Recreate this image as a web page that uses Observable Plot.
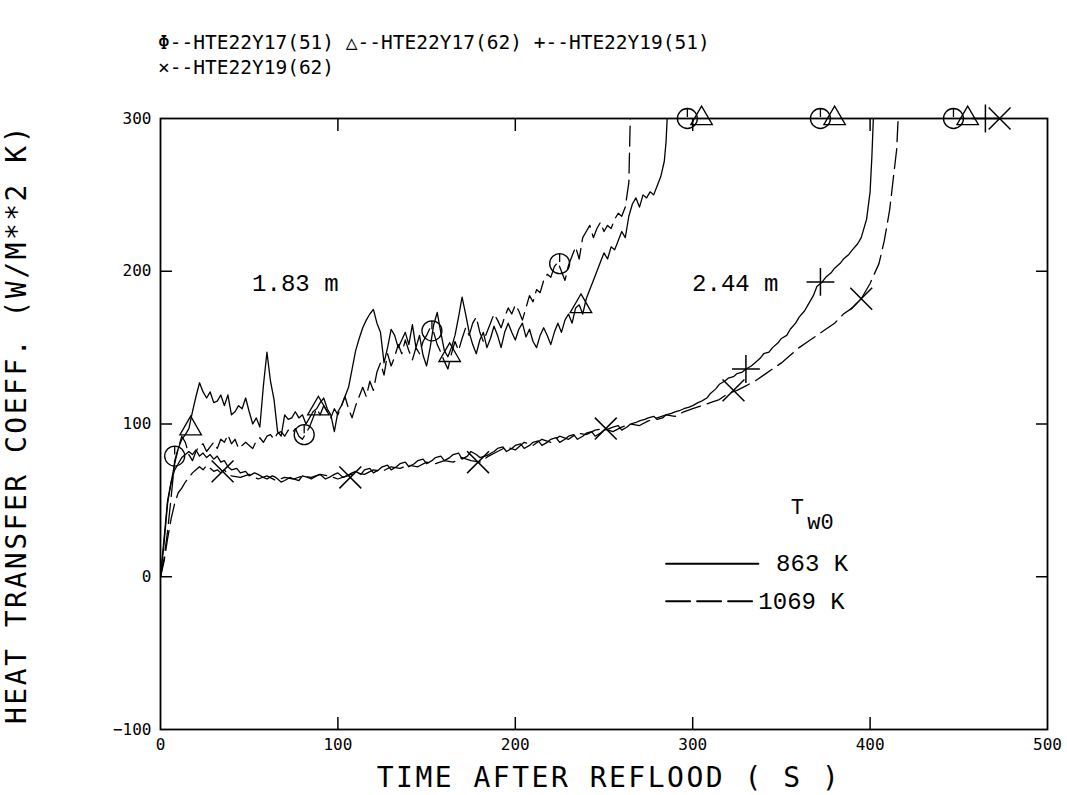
<!DOCTYPE html>
<html><head><meta charset="utf-8">
<script src="https://cdn.jsdelivr.net/npm/d3@7"></script>
<script src="https://cdn.jsdelivr.net/npm/@observablehq/plot@0.6"></script>
<style>
body{margin:0;background:#fff;}
#legend{position:relative;height:95px;width:1067px;font-family:"DejaVu Sans Mono",monospace;font-size:19.5px;color:#000;}
#legend div{position:absolute;left:158px;white-space:pre;line-height:1;}
</style></head><body>
<div id="legend"></div>
<div id="chart"></div>
<script>
// ---------- data ----------
const seriesNames = ["HTE22Y17(51)", "HTE22Y17(62)", "HTE22Y19(51)", "HTE22Y19(62)"];
const seriesGlyphs = ["\u03A6", "\u25B3", "+", "\u00D7"];
const xTicks = [0, 100, 200, 300, 400, 500];
const yTicks = [-100, 0, 100, 200, 300];
const xTitle = "TIME AFTER REFLOOD ( S )";
const yTitle = "HEAT TRANSFER COEFF. (W/M**2 K)";

// HTE22Y17(51): 1.83 m, dashed (1069 K)
const y17_51 = [[0,0],[2,12],[4,30],[6,52],[8,76],[10,84],[12,92],[14,88],[16,80],[18,76],[20,82],[22,86],[24,87],[26,82],[28,85],[30,88],[32,84],[34,90],[36,88],[38,93],[40,87],[42,90],[44,84],[46,86],[48,88],[50,86],[52,84],[54,89],[56,91],[58,88],[60,92],[62,93],[64,90],[66,94],[68,95],[70,92],[72,96],[74,94],[76,97],[78,92],[80,90],[82,94],[84,98],[86,104],[88,110],[90,106],[92,112],[94,108],[96,104],[98,110],[100,106],[102,112],[104,118],[106,110],[108,104],[110,112],[112,118],[114,124],[116,118],[118,128],[120,122],[122,134],[124,140],[126,132],[128,146],[130,138],[132,144],[134,152],[136,146],[138,155],[140,148],[142,142],[144,150],[146,146],[148,154],[150,158],[152,163],[154,160],[156,152],[158,147],[160,141],[162,136],[164,146],[166,154],[168,148],[170,156],[172,163],[174,158],[176,166],[178,170],[180,160],[182,154],[184,160],[186,166],[188,172],[190,168],[192,163],[194,170],[196,176],[198,172],[200,178],[202,174],[204,168],[206,176],[208,184],[210,180],[212,188],[214,186],[216,194],[218,198],[220,196],[222,203],[224,206],[226,200],[228,194],[230,204],[232,210],[234,216],[236,208],[238,222],[240,226],[242,230],[244,222],[246,228],[248,232],[250,226],[252,230],[254,228],[256,234],[258,238],[260,236],[262,242],[264,258],[265,310]];

// HTE22Y17(62): 1.83 m, solid (863 K)
const y17_62 = [[0,0],[2,22],[4,48],[6,62],[8,74],[10,84],[12,90],[14,93],[16,97],[18,108],[20,118],[22,127],[24,121],[26,117],[28,121],[30,114],[32,115],[34,119],[36,112],[38,119],[40,106],[42,108],[44,112],[46,110],[48,117],[50,108],[52,100],[54,104],[56,98],[58,125],[60,147],[62,128],[64,116],[66,95],[68,92],[70,106],[72,103],[74,104],[76,108],[78,104],[80,106],[82,100],[84,104],[86,108],[88,110],[90,114],[92,117],[94,110],[96,106],[98,95],[100,108],[102,112],[104,118],[106,124],[108,136],[110,148],[112,156],[114,163],[116,168],[118,172],[120,175],[122,166],[124,160],[126,140],[128,150],[130,162],[132,158],[134,150],[136,155],[138,160],[140,152],[142,165],[144,150],[146,158],[148,145],[150,138],[152,150],[154,165],[156,173],[158,160],[160,148],[162,144],[164,150],[166,158],[168,170],[170,183],[172,172],[174,160],[176,152],[178,146],[180,155],[182,160],[184,150],[186,156],[188,164],[190,158],[192,150],[194,160],[196,166],[198,160],[200,155],[202,162],[204,166],[206,157],[208,162],[210,154],[212,150],[214,158],[216,163],[218,158],[220,152],[222,160],[224,166],[226,160],[228,168],[230,172],[232,166],[234,176],[236,178],[238,172],[240,182],[242,188],[244,194],[246,200],[248,206],[250,212],[252,208],[254,216],[256,214],[258,220],[260,226],[262,222],[264,236],[266,244],[268,248],[270,242],[272,250],[274,248],[276,252],[278,250],[280,256],[282,262],[284,272],[285,285],[286,310]];

// HTE22Y19(51): 2.44 m, solid (863 K)
const y19_51 = [[0,0],[2,25],[4,50],[6,62],[8,70],[10,74],[12,78],[14,80],[16,82],[18,80],[20,83],[22,79],[24,81],[26,78],[28,80],[30,77],[32,79],[34,75],[36,76],[38,72],[40,70],[43,71],[45,68],[48,69],[50,66],[53,68],[55,67],[58,65],[60,64],[63,66],[65,65],[68,62],[70,63],[73,65],[75,64],[78,63],[80,66],[83,65],[85,64],[88,66],[90,67],[93,64],[95,65],[98,67],[100,68],[103,65],[105,66],[108,68],[110,69],[113,67],[115,70],[118,71],[120,68],[123,70],[125,72],[128,73],[130,70],[133,72],[135,74],[138,75],[140,72],[143,74],[145,76],[148,77],[150,74],[153,76],[155,78],[158,79],[160,76],[163,78],[165,80],[168,81],[170,77],[173,79],[175,82],[178,80],[180,78],[183,79],[185,80],[188,82],[190,84],[193,85],[195,82],[198,84],[200,86],[203,87],[205,84],[208,86],[210,88],[213,89],[215,86],[218,88],[220,90],[223,91],[225,88],[228,90],[230,92],[233,93],[235,90],[238,92],[240,94],[243,95],[245,92],[248,94],[250,96],[253,97],[255,98],[258,99],[260,96],[263,98],[265,100],[268,101],[270,102],[273,103],[275,104],[278,105],[280,103],[283,104],[285,106],[288,107],[290,108],[293,109],[295,110],[298,111],[300,112],[303,114],[305,115],[308,117],[310,120],[313,123],[315,126],[318,128],[320,130],[323,131],[325,133],[328,134],[330,136],[333,138],[335,140],[338,143],[340,146],[343,147],[345,150],[348,153],[350,156],[353,158],[355,162],[358,166],[360,170],[363,174],[365,178],[368,184],[370,190],[373,193],[375,196],[378,199],[380,202],[383,205],[385,208],[388,211],[390,214],[393,218],[395,222],[398,234],[400,252],[401,275],[402,305]];

// HTE22Y19(62): 2.44 m, dashed (1069 K)
const y19_62 = [[0,0],[2,10],[4,25],[6,38],[8,48],[10,55],[12,58],[14,62],[16,65],[18,68],[20,70],[22,72],[24,70],[26,73],[28,71],[30,69],[32,70],[34,68],[36,70],[38,67],[40,66],[45,65],[50,67],[55,64],[60,66],[65,63],[70,65],[75,64],[80,66],[85,65],[90,67],[95,66],[100,64],[105,66],[110,68],[115,67],[120,70],[125,69],[130,72],[135,71],[140,73],[145,72],[150,75],[155,74],[160,76],[165,75],[170,78],[175,76],[180,75],[185,79],[190,82],[195,85],[200,83],[205,88],[210,86],[215,90],[220,88],[225,92],[230,90],[235,94],[240,93],[245,96],[250,97],[255,95],[260,98],[265,100],[270,99],[275,102],[280,104],[285,106],[290,105],[295,108],[300,110],[305,112],[310,114],[315,116],[320,120],[325,122],[330,125],[335,128],[340,132],[345,136],[350,140],[355,145],[360,150],[365,154],[370,158],[375,162],[380,166],[385,172],[390,176],[395,182],[400,192],[405,205],[408,220],[411,240],[413,260],[415,280],[416,305]];

// marker positions seen on each curve
const marks17_51 = [[8,79],[81,93],[153,161],[225,205],[297,300],[372,300],[447,300]];
const marks17_62 = [[17,97],[89,110],[163,145],[237,177],[305,300],[380,300],[455,300]];
const marks19_51 = [[330,136],[372,193],[465,300]];
const marks19_62 = [[35,69],[107,65],[179,75],[251,97],[323,122],[395,182],[473,300]];

// annotations
const heightLabels = [{t:76, h:192, text:"1.83 m"}, {t:324, h:192, text:"2.44 m"}];
const keyEntries = [{label:"863 K", dashed:false, h:8.5}, {label:"1069 K", dashed:true, h:-16}];
const keyLineT = [285, 337];

// ---------- legend (above the svg) ----------
const lg = document.getElementById("legend");
const line1 = seriesNames.slice(0,3).map((n,i) => seriesGlyphs[i] + "--" + n).join(" ");
const line2 = seriesGlyphs[3] + "--" + seriesNames[3];
[line1, line2].forEach((s, i) => {
  const d = document.createElement("div");
  d.textContent = s;
  d.style.top = (33 + i*25) + "px";
  lg.appendChild(d);
});

// ---------- chart ----------
const toRows = (arr) => arr.map(([t,h]) => ({t, h}));
const phi = {draw(ctx, size){ const r = Math.sqrt(size/Math.PI); ctx.moveTo(r,0); ctx.arc(0,0,r,0,2*Math.PI); ctx.moveTo(0,-r); ctx.lineTo(0,-r*0.15);} };
const dash = "20,7";
const mono = "DejaVu Sans Mono, monospace";
const serifMono = "Liberation Mono, Courier New, monospace";

const keyRows = keyEntries.flatMap(e => keyLineT.map(t => ({t, h:e.h, dashed:e.dashed})));

const chart = Plot.plot({
  width: 1067, height: 700,
  marginLeft: 160, marginRight: 20, marginTop: 23, marginBottom: 66,
  x: {domain: [0, 500]},
  y: {domain: [-100, 300]},
  style: {fontFamily: mono, fontSize: "16px", color: "#000", background: "#fff"},
  marks: [
    Plot.frame({stroke: "#000", strokeWidth: 1.8}),
    // inward ticks
    Plot.axisX(xTicks.slice(1,-1), {anchor: "bottom", tickSize: -12, tickFormat: () => "", label: null, strokeWidth: 1.5}),
    Plot.axisX(xTicks.slice(1,-1), {anchor: "top", tickSize: -12, tickFormat: () => "", label: null, strokeWidth: 1.5}),
    Plot.axisY(yTicks.slice(1,-1), {anchor: "left", tickSize: -12, tickFormat: () => "", label: null, strokeWidth: 1.5}),
    Plot.axisY(yTicks.slice(1,-1), {anchor: "right", tickSize: -12, tickFormat: () => "", label: null, strokeWidth: 1.5}),
    // tick labels
    Plot.axisX(xTicks, {anchor: "bottom", tickSize: 0, tickPadding: 9, label: null, fontSize: 16}),
    Plot.axisY(yTicks, {anchor: "left", tickSize: 0, tickPadding: 9, label: null, fontSize: 16}),
    // axis titles
    Plot.text([xTitle], {frameAnchor: "bottom", dx: 5, dy: 49, lineAnchor: "middle", textAnchor: "middle", fontSize: 28, text: d => d, fontFamily: mono}),
    Plot.text([yTitle], {frameAnchor: "left", dx: -143, rotate: -90, lineAnchor: "middle", textAnchor: "middle", fontSize: 28, text: d => d, fontFamily: mono}),
    // curves
    Plot.line(toRows(y17_62), {x: "t", y: "h", stroke: "#000", strokeWidth: 1.3, clip: true}),
    Plot.line(toRows(y17_51), {x: "t", y: "h", stroke: "#000", strokeWidth: 1.3, strokeDasharray: dash, clip: true}),
    Plot.line(toRows(y19_51), {x: "t", y: "h", stroke: "#000", strokeWidth: 1.3, clip: true}),
    Plot.line(toRows(y19_62), {x: "t", y: "h", stroke: "#000", strokeWidth: 1.3, strokeDasharray: dash, clip: true}),
    // markers
    Plot.dot(toRows(marks17_51), {x: "t", y: "h", symbol: phi, r: 10, stroke: "#000", fill: "none", strokeWidth: 1.3}),
    Plot.dot(toRows(marks17_62), {x: "t", y: "h", symbol: "triangle", r: 8, stroke: "#000", fill: "none", strokeWidth: 1.3}),
    Plot.dot(toRows(marks19_51), {x: "t", y: "h", symbol: "plus", r: 9, stroke: "#000", fill: "none", strokeWidth: 1.5}),
    Plot.dot(toRows(marks19_62), {x: "t", y: "h", symbol: "times", r: 10, stroke: "#000", fill: "none", strokeWidth: 1.5}),
    // height annotations
    Plot.text(heightLabels, {x: "t", y: "h", text: "text", fontSize: 24, fontFamily: serifMono}),
    // Tw0 key
    Plot.text(["T"], {x: 359, y: 46, text: d => d, fontSize: 22, fontFamily: serifMono}),
    Plot.text(["w0"], {x: 372, y: 36, text: d => d, fontSize: 22, fontFamily: serifMono}),
    Plot.line(keyRows.filter(d => !d.dashed), {x: "t", y: "h", stroke: "#000", strokeWidth: 2}),
    Plot.line(keyRows.filter(d => d.dashed), {x: "t", y: "h", stroke: "#000", strokeWidth: 2, strokeDasharray: "24,7"}),
    Plot.text(keyEntries, {x: d => d.dashed ? 337 : 347, y: "h", text: "label", textAnchor: "start", fontSize: 24, fontFamily: serifMono})
  ]
});
// widen the axis titles a little, as in the plotter lettering
d3.select(chart).selectAll("text").filter(function(){ return this.textContent === xTitle || this.textContent === yTitle; })
  .attr("letter-spacing", 2.5).attr("font-weight", 300);
document.getElementById("chart").appendChild(chart);
</script>
</body></html>
